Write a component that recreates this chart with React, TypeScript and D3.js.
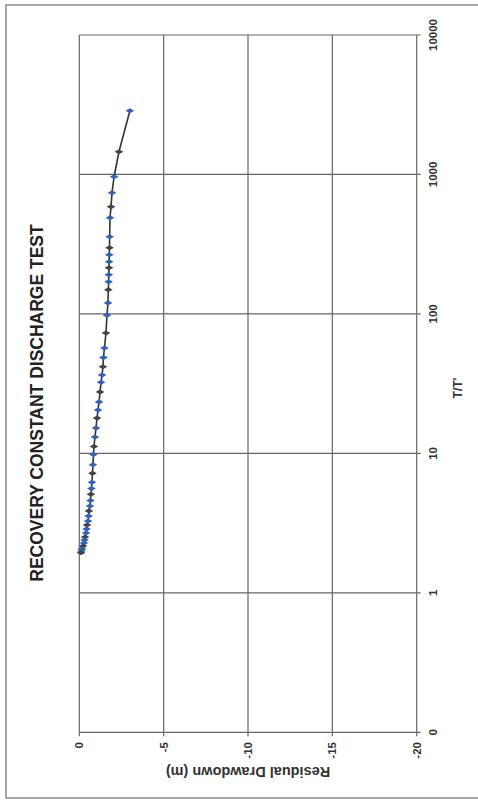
import React from "react";
import * as d3 from "d3";

// T/T' (x, log) and residual drawdown (m)
const ratioT: number[] = [
  2864, 1455, 963, 740, 586, 489, 357, 298, 266, 237, 214, 191, 170, 149, 120, 98,
  73, 57, 48.6, 41.8, 36.5, 32.4, 27.6, 23.4, 20.5, 17.9, 15.2, 13.1, 11.2, 9.8,
  8.3, 7.2, 6.2, 5.6, 5.1, 4.6, 4.2, 3.87, 3.56, 3.28, 3.07, 2.87, 2.69, 2.51,
  2.39, 2.28, 2.17, 2.07, 2.0, 1.94,
];
const drawdown: number[] = [
  -3.0, -2.35, -2.06, -1.94, -1.88, -1.82, -1.8, -1.79, -1.78, -1.77, -1.76, -1.75,
  -1.74, -1.72, -1.7, -1.64, -1.58, -1.49, -1.43, -1.4, -1.35, -1.29, -1.23, -1.17,
  -1.11, -1.05, -0.99, -0.93, -0.87, -0.84, -0.81, -0.78, -0.75, -0.72, -0.69,
  -0.66, -0.63, -0.57, -0.55, -0.52, -0.46, -0.43, -0.4, -0.34, -0.31, -0.28,
  -0.22, -0.16, -0.13, -0.1,
];
const xTicks: number[] = [0.1, 1, 10, 100, 1000, 10000];
const xTickLabels: string[] = ["0", "1", "10", "100", "1000", "10000"];
const yTicks: number[] = [0, -5, -10, -15, -20];
const yTickLabels: string[] = ["0", "-5", "-10", "-15", "-20"];
const title = "RECOVERY CONSTANT DISCHARGE TEST";
const xTitle = "T/T'";
const yTitle = "Residual Drawdown (m)";

const W = 478;
const H = 804;
const FONT = "'Liberation Sans', Arial, sans-serif";

export default function App() {
  const x = d3.scaleLog().domain([0.1, 10000]).range([71.7, 769]);
  const y = d3.scaleLinear().domain([0, -20]).range([79.3, 416.7]);
  const pts = ratioT.map((t, i) => [t, drawdown[i]] as [number, number]);
  const line = d3
    .line<[number, number]>()
    .x((d) => x(d[0]))
    .y((d) => y(d[1]));
  const [u0, u1] = x.range();
  const [v0, v1] = y.range();
  const diamond = d3.symbol().type(d3.symbolDiamond).size(22)();

  return (
    <svg
      width={W}
      height={H}
      style={{ position: "absolute", left: 0, top: 0, background: "#fff" }}
      fontFamily={FONT}
    >
      <rect x={0} y={0} width={W} height={H} fill="#fff" />
      <g transform={`translate(0,${H}) rotate(-90)`}>
        <rect x={6} y={6} width={793} height={484} fill="none" stroke="#888" strokeWidth={1.5} />
        {xTicks.map((t) => (
          <line key={"gx" + t} x1={x(t)} x2={x(t)} y1={v0} y2={v1 + 4} stroke="#666" strokeWidth={1.2} />
        ))}
        {yTicks.map((t) => (
          <line key={"gy" + t} x1={u0 - 4} x2={u1} y1={y(t)} y2={y(t)} stroke="#666" strokeWidth={1.2} />
        ))}
        <path d={line(pts) || ""} fill="none" stroke="#333" strokeWidth={1.6} />
        {pts.map((d, i) => (
          <path
            key={"m" + i}
            d={diamond || ""}
            transform={`translate(${x(d[0])},${y(d[1])})`}
            fill={i % 3 === 1 ? "#444" : "#2f63b8"}
          />
        ))}
        {xTicks.map((t, i) => (
          <text key={"xl" + t} x={x(t)} y={437} fontSize={11.5} fontWeight="bold" textAnchor="middle" fill="#333">
            {xTickLabels[i]}
          </text>
        ))}
        {yTicks.map((t, i) => (
          <text key={"yl" + t} x={62} y={y(t)} dy="0.35em" fontSize={11.5} fontWeight="bold" textAnchor="end" fill="#333">
            {yTickLabels[i]}
          </text>
        ))}
        <text x={401} y={43} fontSize={17.5} fontWeight="bold" textAnchor="middle" fill="#222">
          {title}
        </text>
        <text x={416} y={462} fontSize={12} fontWeight="bold" textAnchor="middle" fill="#333">
          {xTitle}
        </text>
        <text
          transform={`translate(37,248) rotate(-90)`}
          fontSize={14.5}
          fontWeight="bold"
          textAnchor="middle"
          fill="#333"
        >
          {yTitle}
        </text>
      </g>
    </svg>
  );
}
